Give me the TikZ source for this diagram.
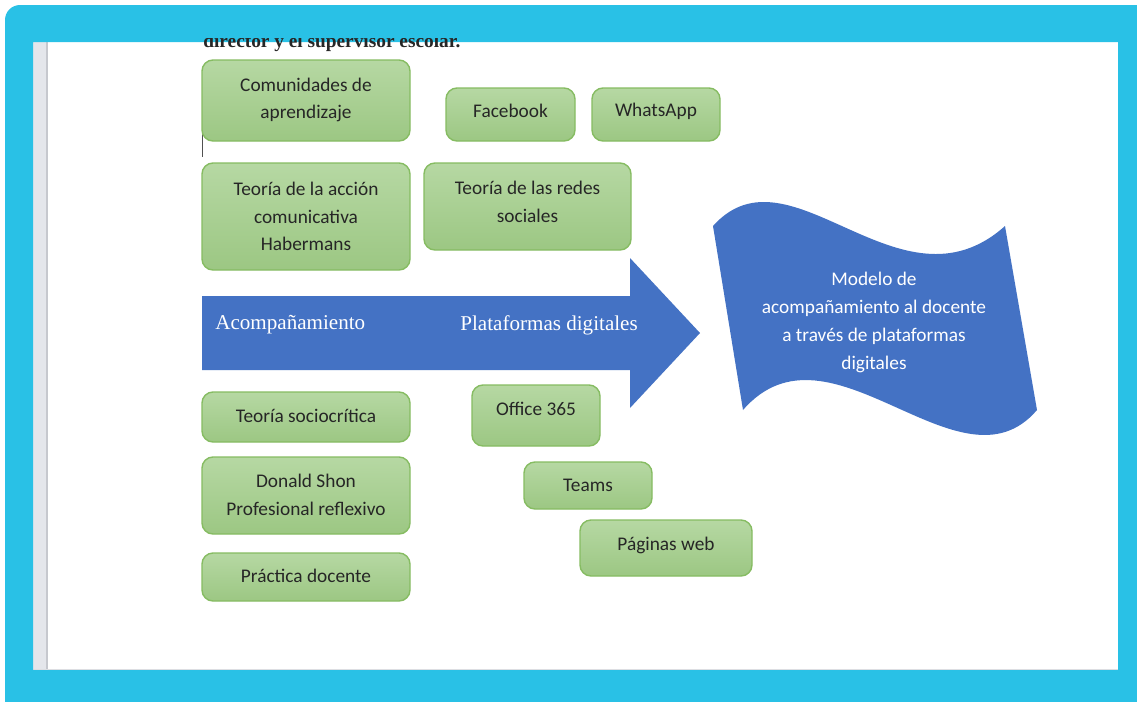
\documentclass[tikz,border=0pt]{standalone}
\usepackage{fontspec}
\setmainfont{Carlito}
\newfontfamily\serifont{Liberation Serif}
\definecolor{framecyan}{HTML}{29C1E6}
\definecolor{stripgray}{HTML}{E4E6EB}
\definecolor{stripline}{HTML}{C6C8CE}
\definecolor{greentop}{HTML}{B6D8A3}
\definecolor{greenbot}{HTML}{9CC783}
\definecolor{greenedge}{HTML}{86BC62}
\definecolor{officeblue}{HTML}{4472C4}
\definecolor{boxtext}{HTML}{262626}
\begin{document}
\begin{tikzpicture}[x=0.02cm,y=-0.02cm,
  gbox/.style 2 args={draw=greenedge, line width=0.8pt, top color=greentop, bottom color=greenbot,
    rounded corners=0.22cm, minimum width=#1*0.02cm, minimum height=#2*0.02cm, inner sep=0pt},
  btxt/.style={text=boxtext, align=center, inner sep=0pt, font=\fontsize{11}{15.8}\selectfont},
  wtxt/.style={text=white, align=center, inner sep=0pt, font=\fontsize{11}{15.8}\selectfont},
  atxt/.style={text=white, anchor=west, inner sep=0pt, font=\serifont\fontsize{12}{14}\selectfont}]
\useasboundingbox (0,0) rectangle (1137,701);
\fill[white] (0,0) rectangle (1137,701);
% page
\fill[white] (33,42) rectangle (1118,670);
\fill[stripgray] (33,42) rectangle (47,670);
\draw[stripline, line width=0.8pt] (47,42) -- (47,670);
\draw[stripline!60, line width=0.8pt] (33,669.5) -- (1118,669.5);
% text cursor
\coordinate (curA) at (202.5,133);
\coordinate (curB) at (202.5,157);
\draw[boxtext!80, line width=0.9pt] (curA) -- (curB);
% green boxes
\node[gbox={208}{81}] (cd) at (306,100.5) {};
\node[btxt] (cdt) at (306,100) {Comunidades de\\aprendizaje};
\node[gbox={129}{53}] (fb) at (510.5,114.5) {};
\node[btxt] (fbt) at (510.5,111) {Facebook};
\node[gbox={128}{53}] (wa) at (656,114.5) {};
\node[btxt] (wat) at (656,111) {WhatsApp};
\node[gbox={208}{107}] (tac) at (306,216.5) {};
\node[btxt] (tact) at (306,216.5) {Teoría de la acción\\comunicativa\\Habermans};
\node[gbox={207}{87}] (trs) at (527.5,206.5) {};
\node[btxt] (trst) at (527.5,202) {Teoría de las redes\\sociales};
\node[gbox={208}{50}] (ts) at (306,417) {};
\node[btxt] (tst) at (306,416) {Teoría sociocrítica};
\node[gbox={128}{61}] (of) at (536,415.5) {};
\node[btxt] (oft) at (536,409) {Office 365};
\node[gbox={208}{77}] (ds) at (306,495.5) {};
\node[btxt] (dst) at (306,495) {Donald Shon\\Profesional reflexivo};
\node[gbox={128}{47}] (tm) at (588,485.5) {};
\node[btxt] (tmt) at (588,485) {Teams};
\node[gbox={172}{56}] (pw) at (666,548) {};
\node[btxt] (pwt) at (666,545) {Páginas web};
\node[gbox={208}{48}] (pd) at (306,577) {};
\node[btxt] (pdt) at (306,576) {Práctica docente};
% big arrow
\fill[officeblue] (202,296) -- (630,296) -- (630,258) -- (700,333) -- (630,408) -- (630,370) -- (202,370) -- cycle;
\node[atxt] (ac) at (215,325) {Acompañamiento};
\node[atxt] (pl) at (460,325) {Plataformas digitales};
% wave
\fill[officeblue] (713,226) .. controls (790,140) and (900,320) .. (1005,226)
  -- (1037,410) .. controls (960,500) and (830,310) .. (743,410) -- cycle;
\node[wtxt] (wv) at (874,322.5) {Modelo de\\acompañamiento al docente\\a través de plataformas\\digitales};
% frame
\fill[framecyan, even odd rule] [rounded corners=0.3cm] (5,5) rectangle (1200,760)
  [sharp corners] (33,42) rectangle (1118,670);
% cut-off header line, cropped at the top by the frame
\begin{scope}
\clip (190,38.5) rectangle (480,60);
\node[anchor=base west, inner sep=0pt, text=boxtext, font=\serifont\bfseries\fontsize{11}{13}\selectfont] (hdr) at (203,47) {director y el supervisor escolar.};
\end{scope}
\end{tikzpicture}
\end{document}
